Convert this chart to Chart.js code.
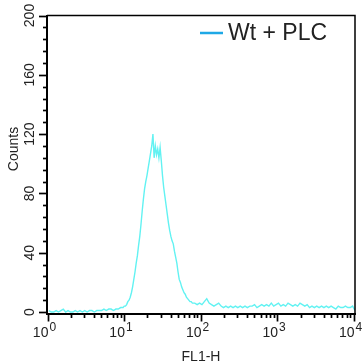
<!DOCTYPE html>
<html>
<head>
<meta charset="utf-8">
<script src="https://cdn.jsdelivr.net/npm/chart.js@4.4.1/dist/chart.umd.min.js"></script>
<style>
    html, body { margin: 0; padding: 0; background: #fff; }
    canvas { display: block; }
</style>
</head>
<body>
<canvas id="histChart" width="362" height="364"></canvas>
<script>
// FL1-H channels (256 channels over 4 log decades) and event counts
const channels = [
    0, 2, 4, 6, 8, 10, 12, 14, 16, 18, 20, 22, 24, 26, 28, 30, 32, 34, 36, 38,
    40, 42, 44, 46, 48, 50, 52, 54, 56, 58,
    60, 61, 62, 63, 64, 65, 66, 67, 68, 69, 70, 71, 72, 73, 74, 75, 76, 77, 78, 79,
    80, 81, 82, 83, 84, 85, 86, 87, 88, 89, 90, 91, 92, 93, 94, 95, 96, 97, 98, 99,
    100, 101, 102, 103, 104, 105, 106, 107, 108, 109, 110, 111, 112, 113, 114, 115, 116, 117, 118, 119, 120,
    122, 124, 126, 128, 130, 132, 134, 136, 138, 140, 142, 144, 146, 148, 150, 152, 154, 156, 158,
    160, 162, 164, 166, 168, 170, 172, 174, 176, 178, 180, 182, 184, 186, 188, 190, 192, 194, 196, 198,
    200, 202, 204, 206, 208, 210, 212, 214, 216, 218, 220, 222, 224, 226, 228, 230, 232, 234, 236, 238,
    240, 242, 244, 246, 248, 250, 252, 254, 256
]
const counts = [
    1, 0, 0, 1, 0, 1, 2, 0, 1, 0, 0, 1, 0, 1, 0, 1, 0, 1, 1, 0,
    1, 1, 1, 2, 1, 2, 2, 1, 2, 2,
    3, 3, 3, 4, 4, 5, 7, 8, 10, 13, 17, 22, 27, 33, 38, 45, 51, 59, 68, 76,
    83, 88, 92, 97, 102, 107, 112, 120, 104, 112, 106, 110, 104, 111, 102, 92, 84, 78, 72, 66,
    60, 55, 51, 48, 46, 41, 37, 33, 27, 22, 20, 17, 15, 13, 12, 10, 9, 8, 7, 7, 6,
    6, 5, 6, 5, 7, 9, 6, 5, 4, 5, 6, 4, 3, 4, 3, 4, 3, 4, 3,
    4, 3, 4, 3, 4, 4, 5, 3, 4, 5, 4, 5, 4, 6, 4, 5, 6, 4, 5, 4,
    6, 5, 4, 5, 4, 6, 5, 4, 5, 3, 4, 3, 4, 3, 4, 3, 4, 3, 4, 3,
    2, 4, 3, 3, 4, 3, 3, 4, 1
]

const yTicks = [0, 40, 80, 120, 160, 200]
const yMinorStep = 8
const xDecadeChannels = [0, 64, 128, 192, 256]
const xDecadeExponents = ["0", "1", "2", "3", "4"]

const seriesLabel = "Wt + PLC"
const curveColor = "#62f2f2"
const legendColor = "#1ea8e6"
const textColor = "#222"
const fontFamily = "'Liberation Sans', Arial, Helvetica, sans-serif"

// tick marks, log labels, titles, frame and legend
const axisDecor = {
    id: "axisDecor",
    afterDraw(chart) {
        const ctx = chart.ctx
        const area = chart.chartArea
        const xs = chart.scales.x
        const ys = chart.scales.y

        ctx.save()
        ctx.strokeStyle = "#000"

        // top and right frame
        ctx.lineWidth = 1.5
        ctx.beginPath()
        ctx.moveTo(area.left, area.top)
        ctx.lineTo(area.right, area.top)
        ctx.lineTo(area.right, area.bottom)
        ctx.stroke()

        // y ticks
        ctx.lineWidth = 1.7
        for (let v = 0; v <= 200; v += yMinorStep) {
            const py = Math.round(ys.getPixelForValue(v)) + 0.5
            const len = yTicks.includes(v) ? 8 : 4
            ctx.beginPath()
            ctx.moveTo(area.left - len, py)
            ctx.lineTo(area.left, py)
            ctx.stroke()
        }

        // x ticks (log decades with minors)
        for (let d = 0; d < xDecadeChannels.length; d++) {
            const px = Math.round(xs.getPixelForValue(xDecadeChannels[d])) - 0.5
            ctx.beginPath()
            ctx.moveTo(px, area.bottom)
            ctx.lineTo(px, area.bottom + 8)
            ctx.stroke()
            if (d === xDecadeChannels.length - 1) break
            for (let k = 2; k <= 9; k++) {
                const ch = xDecadeChannels[d] + 64 * Math.log10(k)
                const mx = Math.round(xs.getPixelForValue(ch)) - 0.5
                ctx.beginPath()
                ctx.moveTo(mx, area.bottom)
                ctx.lineTo(mx, area.bottom + 4.5)
                ctx.stroke()
            }
        }

        // x tick labels 10^n
        ctx.fillStyle = textColor
        ctx.textBaseline = "alphabetic"
        xDecadeChannels.forEach((ch, i) => {
            const px = xs.getPixelForValue(ch)
            ctx.font = "14px " + fontFamily
            ctx.textAlign = "right"
            ctx.fillText("10", px - 0.5, 337)
            ctx.font = "12px " + fontFamily
            ctx.textAlign = "left"
            ctx.fillText(xDecadeExponents[i], px + 0.5, 331)
        })

        // axis titles
        ctx.font = "14px " + fontFamily
        ctx.textAlign = "center"
        ctx.textBaseline = "middle"
        ctx.fillText("FL1-H", (area.left + area.right) / 2, 357)

        ctx.save()
        ctx.translate(14, 149)
        ctx.rotate(-Math.PI / 2)
        ctx.fillText("Counts", 0, 0)
        ctx.restore()

        // legend
        const ly = 33
        ctx.strokeStyle = legendColor
        ctx.lineWidth = 2.5
        ctx.beginPath()
        ctx.moveTo(200, ly)
        ctx.lineTo(223, ly)
        ctx.stroke()
        ctx.fillStyle = textColor
        ctx.font = "23px " + fontFamily
        ctx.textAlign = "left"
        ctx.fillText(chart.data.datasets[0].label, 228, ly + 1)

        ctx.restore()
    }
}

const ctx = document.getElementById("histChart")

new Chart(ctx, {
    type: "line",
    data: {
        datasets: [{
            label: seriesLabel,
            data: channels.map((c, i) => ({ x: c, y: counts[i] })),
            borderColor: curveColor,
            borderWidth: 1.4,
            pointRadius: 0,
            tension: 0,
            fill: false
        }]
    },
    options: {
        responsive: false,
        animation: false,
        layout: { padding: { top: 15.5, right: 7, left: 0, bottom: 0 } },
        plugins: {
            legend: { display: false },
            tooltip: { enabled: false }
        },
        scales: {
            x: {
                type: "linear",
                min: -1.6,
                max: 256,
                grid: { display: false, drawTicks: false },
                border: { display: true, color: "#000", width: 2 },
                ticks: { display: false },
                afterFit: scale => { scale.height = 50.5 }
            },
            y: {
                type: "linear",
                min: -1,
                max: 200,
                grid: { display: false, drawTicks: false },
                border: { display: true, color: "#000", width: 2 },
                afterBuildTicks: scale => { scale.ticks = yTicks.map(v => ({ value: v })) },
                ticks: {
                    autoSkip: false,
                    minRotation: 90,
                    maxRotation: 90,
                    crossAlign: "center",
                    padding: 5,
                    color: textColor,
                    font: { family: fontFamily, size: 14 }
                },
                afterFit: scale => { scale.width = 47 }
            }
        }
    },
    plugins: [axisDecor]
})
</script>
</body>
</html>
